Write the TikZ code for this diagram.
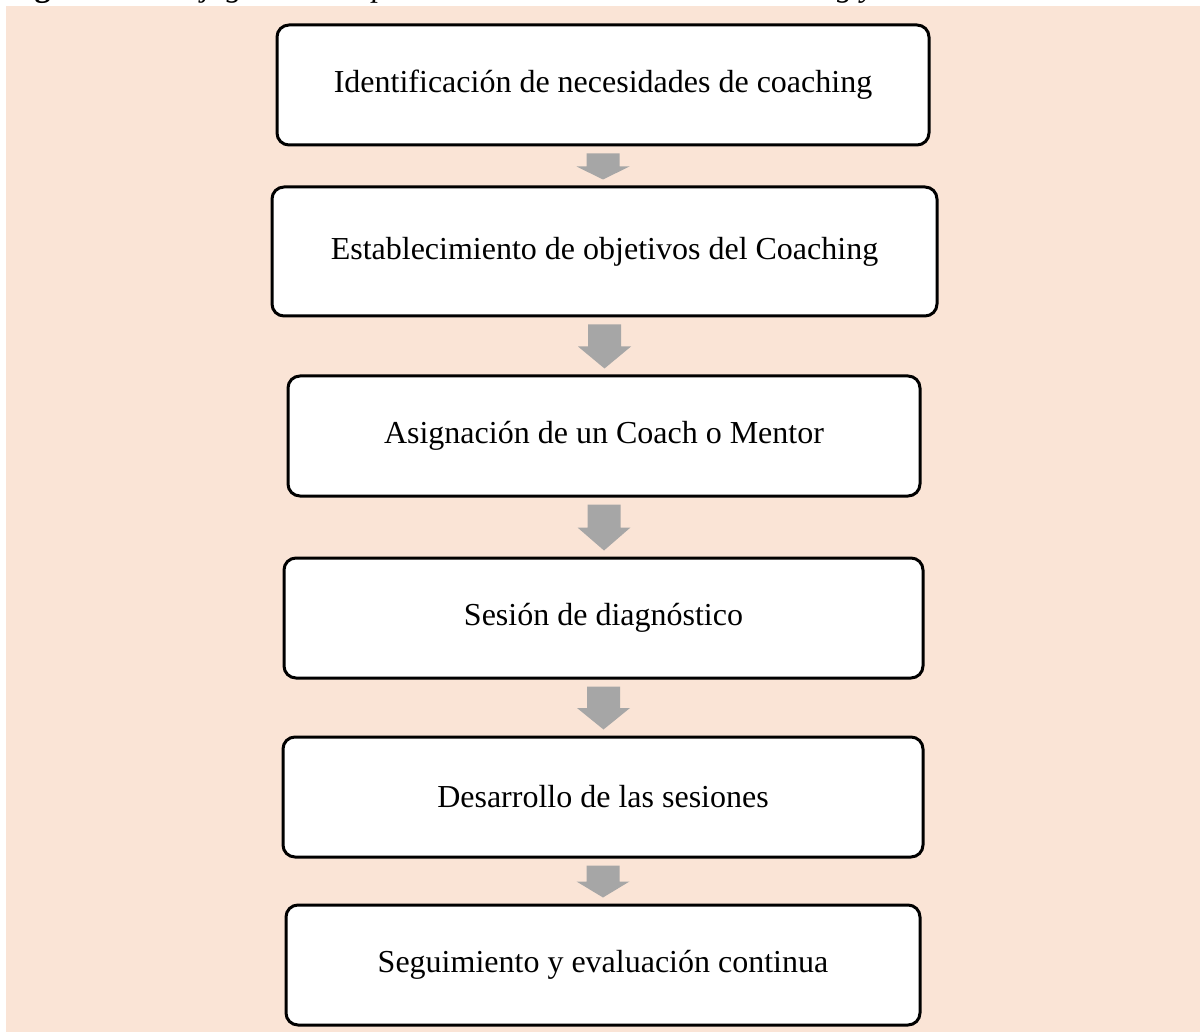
\documentclass[tikz,border=0pt]{standalone}
\usepackage{fontspec}
\setmainfont{Liberation Serif}
\usetikzlibrary{calc}
\definecolor{peach}{HTML}{FAE4D6}
\definecolor{arrowgray}{HTML}{A6A6A6}
\tikzset{
  stepbox/.style={draw=black, line width=3pt, rounded corners=12pt, fill=white,
    font=\fontsize{32}{38}\selectfont, inner sep=0pt, align=center},
  captiontext/.style={anchor=base west, inner sep=0pt, font=\fontsize{32}{38}\selectfont}
}
% grey block arrow between two stacked boxes
\newcommand{\flowarrow}[2]{%
  \fill[arrowgray] let \p1=($(#1.south)+(0,-7pt)$), \p2=($(#2.north)+(0,6pt)$),
      \n1={(\y1+\y2)/2} in
    (\x1-16.5pt,\y1) -- (\x1+16.5pt,\y1) -- (\x1+16.5pt,\n1) -- (\x1+26.5pt,\n1)
    -- (\x1,\y2) -- (\x1-26.5pt,\n1) -- (\x1-16.5pt,\n1) -- cycle;}
\begin{document}
\begin{tikzpicture}[x=1pt, y=-1pt]
\useasboundingbox (0,0) rectangle (1200,1032);
\begin{scope}
  \clip (0,0) rectangle (1200,1032);
  \node[captiontext] (caption) at (6,-3)
    {\textbf{Figura 13.} \textit{Flujograma de aplicación de las sesiones de coaching y mentoría}};
  \fill[peach] (6,6) rectangle (1200,1032);
\end{scope}

\node[stepbox, minimum width=652pt, minimum height=120pt] (b1) at (603,85)
  {Identificación de necesidades de coaching};
\node[stepbox, minimum width=665pt, minimum height=129pt] (b2) at (604.5,251.5)
  {Establecimiento de objetivos del Coaching};
\node[stepbox, minimum width=632pt, minimum height=120pt] (b3) at (604,436)
  {Asignación de un Coach o Mentor};
\node[stepbox, minimum width=639pt, minimum height=120pt] (b4) at (603.5,618)
  {Sesión de diagnóstico};
\node[stepbox, minimum width=640pt, minimum height=120pt] (b5) at (603,797)
  {Desarrollo de las sesiones};
\node[stepbox, minimum width=634pt, minimum height=120pt] (b6) at (603,965)
  {Seguimiento y evaluación continua};

\flowarrow{b1}{b2}
\flowarrow{b2}{b3}
\flowarrow{b3}{b4}
\flowarrow{b4}{b5}
\flowarrow{b5}{b6}
\end{tikzpicture}
\end{document}
